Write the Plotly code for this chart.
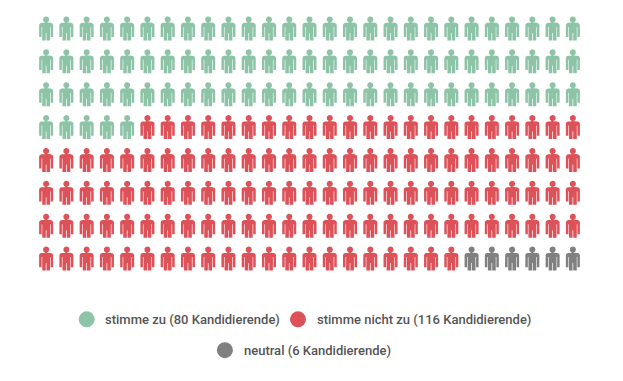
import math
import plotly.graph_objects as go

categories = ["stimme zu (80 Kandidierende)", "stimme nicht zu (116 Kandidierende)", "neutral (6 Kandidierende)"]
icon_counts = [86, 124, 6]
colors = ["#8dc4a8", "#dd5158", "#808080"]
n_cols = 27
n_rows = 8

W, H = 623, 381
cell_w, cell_h = 20.23, 33.0
left = 46.5 - cell_w / 2
top = 28.0 - cell_h / 2
plot_w, plot_h = cell_w * n_cols, cell_h * n_rows

# person pictogram outline, in pixels relative to the icon centre
body = [(-1.5, -6.2), (1.5, -6.2), (1.5, -5.6), (4.6, -5.6), (6.2, -5.0), (7.0, -3.6), (7.0, 8.6), (4.5, 8.6), (4.5, -1.5), (3.9, -1.5),
        (3.9, 12), (0.35, 12), (0.35, 4.5), (-0.35, 4.5), (-0.35, 12), (-3.9, 12), (-3.9, -1.5), (-4.5, -1.5),
        (-4.5, 8.6), (-7.0, 8.6), (-7.0, -3.6), (-6.2, -5.0), (-4.6, -5.6), (-1.5, -5.6)]
head = [(3.1 * math.cos(t * math.pi / 10), -9.0 + 3.1 * math.sin(t * math.pi / 10)) for t in range(20)]


def icons(cells):
    xs, ys = [], []
    for col, row in cells:
        for part in (body, head):
            xs += [col + px / cell_w for px, _ in part] + [col + part[0][0] / cell_w, None]
            ys += [row + py / cell_h for _, py in part] + [row + part[0][1] / cell_h, None]
    return xs, ys


fig = go.Figure()
index = 0
for name, count, color in zip(categories, icon_counts, colors):
    cells = [(i % n_cols, i // n_cols) for i in range(index, index + count)]
    index += count
    xs, ys = icons(cells)
    fig.add_trace(go.Scatter(x=xs, y=ys, mode="lines", fill="toself", fillcolor=color,
                             line=dict(width=0, color=color), name=name, hoverinfo="skip", showlegend=False))


def px(x):
    return (x - left) / plot_w


def py(y):
    return 1 - (y - top) / plot_h


legend_items = [(0, 87, 104, 320.5), (1, 298, 315.5, 320.5), (2, 225, 243, 351.5)]
for i, dot_x, text_x, y in legend_items:
    fig.add_shape(type="circle", xref="paper", yref="paper", xsizemode="pixel", ysizemode="pixel",
                  xanchor=px(dot_x), yanchor=py(y - 0.5), x0=-8, x1=8, y0=-8, y1=8,
                  fillcolor=colors[i], line=dict(width=0))
    fig.add_annotation(xref="paper", yref="paper", x=px(text_x), y=py(y), text=categories[i], showarrow=False,
                       xanchor="left", yanchor="middle", xshift=-1,
                       font=dict(family="Roboto", size=13, color="#555555", weight=500))

fig.update_layout(
    width=W, height=H, autosize=False, showlegend=False,
    paper_bgcolor="white", plot_bgcolor="white",
    margin=dict(l=left, r=W - left - plot_w, t=top, b=H - top - plot_h, pad=0),
    xaxis=dict(range=[-0.5, n_cols - 0.5], visible=False, fixedrange=True),
    yaxis=dict(range=[n_rows - 0.5, -0.5], visible=False, fixedrange=True),
)
fig.write_html("out.html", config={"displayModeBar": False},
               post_script="document.body.style.margin='0';document.documentElement.style.overflow='hidden';")
